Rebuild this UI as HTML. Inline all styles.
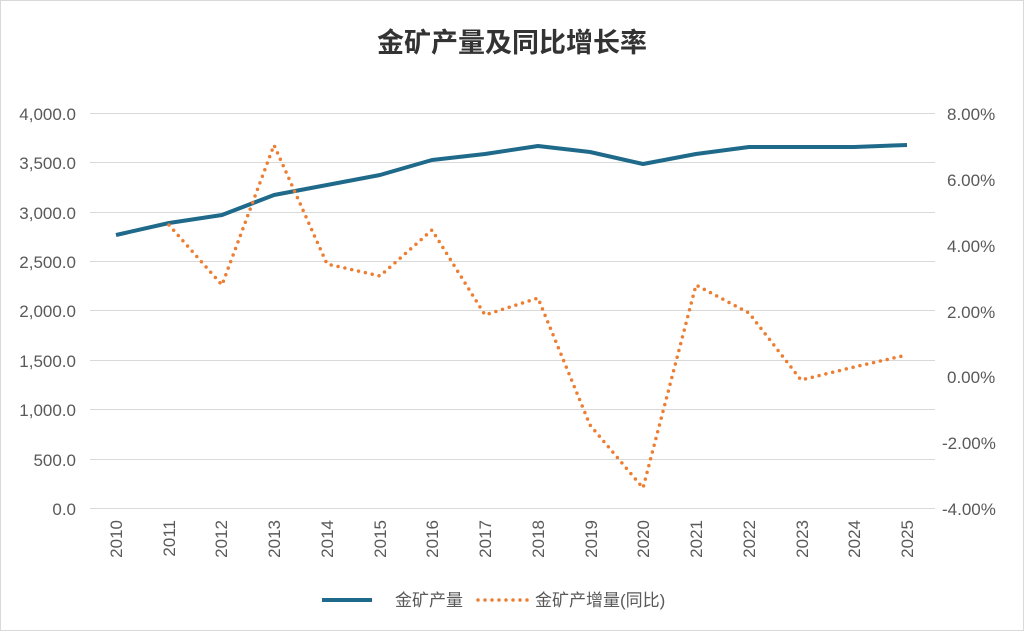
<!DOCTYPE html>
<html><head><meta charset="utf-8"><style>
body{margin:0;background:#fff;width:1024px;height:631px;overflow:hidden}
text{font-family:"Liberation Sans","Noto Sans CJK SC",sans-serif;fill:#595959}
</style></head><body>
<svg width="1024" height="631" viewBox="0 0 1024 631">
<rect x="0.5" y="0.5" width="1023" height="630" fill="#fff" stroke="#d9d9d9"/>
<text x="512" y="52" text-anchor="middle" font-size="27" font-weight="bold" style="fill:#333">金矿产量及同比增长率</text>
<g stroke="#d9d9d9" stroke-width="1">
<line x1="90" x2="935" y1="113.5" y2="113.5"/><line x1="90" x2="935" y1="162.5" y2="162.5"/>
<line x1="90" x2="935" y1="212.5" y2="212.5"/><line x1="90" x2="935" y1="261.5" y2="261.5"/>
<line x1="90" x2="935" y1="310.5" y2="310.5"/><line x1="90" x2="935" y1="360.5" y2="360.5"/>
<line x1="90" x2="935" y1="409.5" y2="409.5"/><line x1="90" x2="935" y1="459.5" y2="459.5"/>
<line x1="90" x2="935" y1="508.5" y2="508.5"/>
</g>
<g font-size="17" text-anchor="end">
<text x="76" y="120">4,000.0</text><text x="76" y="169">3,500.0</text><text x="76" y="219">3,000.0</text>
<text x="76" y="268">2,500.0</text><text x="76" y="317">2,000.0</text><text x="76" y="367">1,500.0</text>
<text x="76" y="416">1,000.0</text><text x="76" y="466">500.0</text><text x="76" y="515">0.0</text>
</g>
<g font-size="17" text-anchor="start">
<text x="947" y="120">8.00%</text><text x="947" y="186">6.00%</text><text x="947" y="252">4.00%</text>
<text x="947" y="318">2.00%</text><text x="947" y="383">0.00%</text><text x="942" y="449">-2.00%</text>
<text x="942" y="515">-4.00%</text>
</g>
<g font-size="17" text-anchor="end">
<text transform="translate(122,520) rotate(-90)">2010</text>
<text transform="translate(175,520) rotate(-90)">2011</text>
<text transform="translate(227,520) rotate(-90)">2012</text>
<text transform="translate(280,520) rotate(-90)">2013</text>
<text transform="translate(333,520) rotate(-90)">2014</text>
<text transform="translate(386,520) rotate(-90)">2015</text>
<text transform="translate(438,520) rotate(-90)">2016</text>
<text transform="translate(491,520) rotate(-90)">2017</text>
<text transform="translate(544,520) rotate(-90)">2018</text>
<text transform="translate(597,520) rotate(-90)">2019</text>
<text transform="translate(649,520) rotate(-90)">2020</text>
<text transform="translate(702,520) rotate(-90)">2021</text>
<text transform="translate(755,520) rotate(-90)">2022</text>
<text transform="translate(808,520) rotate(-90)">2023</text>
<text transform="translate(860,520) rotate(-90)">2024</text>
<text transform="translate(913,520) rotate(-90)">2025</text>
</g>
<polyline fill="none" stroke="#1f6a8a" stroke-width="4" stroke-linejoin="round" points="116,235 169,223 222,215 274,195 327,185 380,175 432,160 485,154 538,146 590,152 643,164 696,154 749,147 801,147 854,147 907,145"/>
<polyline fill="none" stroke="#ed7d31" stroke-width="3.5" stroke-dasharray="0 7" stroke-linecap="round" points="169,225 222,285 274,145 327,264 380,276 432,230 485,315 538,298 590,425 643,488 696,285 749,313 801,380 854,367 907,355"/>
<line x1="322" x2="372" y1="600" y2="600" stroke="#1f6a8a" stroke-width="4"/>
<text x="395" y="606" font-size="17">金矿产量</text>
<line x1="478" x2="528" y1="600" y2="600" stroke="#ed7d31" stroke-width="3.5" stroke-dasharray="0 7" stroke-linecap="round"/>
<text x="535" y="606" font-size="17">金矿产增量(同比)</text>
</svg>
</body></html>
